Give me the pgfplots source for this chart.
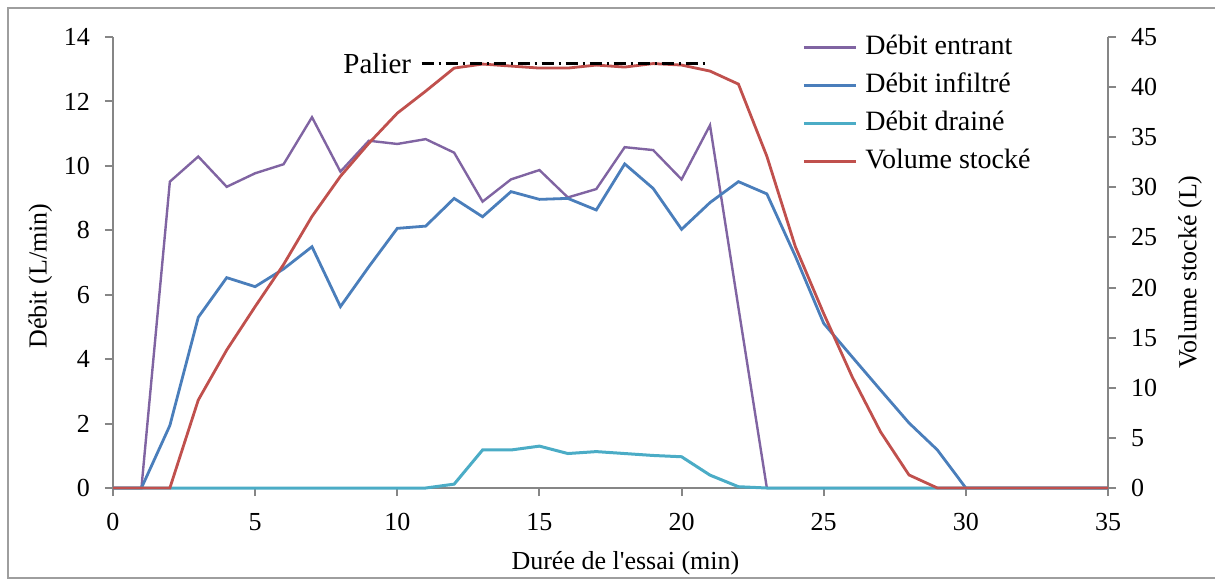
\documentclass[border=0pt]{standalone}
\usepackage{fontspec}
\setmainfont{Liberation Serif}
\usepackage{pgfplots}
\pgfplotsset{compat=1.18}
\definecolor{cPur}{RGB}{128,100,162}
\definecolor{cBlu}{RGB}{74,126,187}
\definecolor{cCya}{RGB}{75,172,198}
\definecolor{cRed}{RGB}{192,80,77}
\definecolor{cAx}{RGB}{134,134,134}
\pgfplotsset{
  common/.style={
    at={(56.5pt,46pt)}, anchor=south west,
    scale only axis, width=497.5pt, height=225.5pt,
    xmin=0, xmax=35,
    axis line style={cAx, line width=1pt, -},
    tick style={cAx, line width=1pt},
    tick align=outside, major tick length=4pt,
    /pgf/number format/assume math mode=true,
    ticklabel style={font=\fontsize{13}{15.6}\selectfont, text=black},
    label style={font=\fontsize{14}{16.8}\selectfont},
    clip=false,
  },
}
\begin{document}
\fontsize{13}{15.6}\selectfont
\begin{tikzpicture}
\path[use as bounding box] (0,0) rectangle (607.5pt,290pt);
\draw[cAx!80, line width=0.8pt] (4pt,1pt) rectangle (620pt,286pt);
\begin{axis}[common,
  ymin=0, ymax=14, ytick={0,2,...,14},
  xtick={0,5,...,35},
  axis y line*=left, axis x line*=bottom,
  yticklabel style={xshift=-3pt},
  xticklabel style={yshift=-4pt},
  xlabel={Durée de l\textquotesingle essai (min)},
  ylabel={Débit (L/min)},
  every axis x label/.style={at={(axis description cs:0.515,-0.166)}, anchor=center},
  every axis y label/.style={at={(axis description cs:-0.073,0.47)}, rotate=90, anchor=center},
]
\addplot[cPur, line width=1.2pt] coordinates {
(0,0) (1,0) (2,9.51) (3,10.29) (4,9.35) (5,9.77) (6,10.05) (7,11.51) (8,9.82) (9,10.78)
(10,10.68) (11,10.83) (12,10.41) (13,8.89) (14,9.58) (15,9.87) (16,9.02) (17,9.28) (18,10.58)
(19,10.49) (20,9.58) (21,11.26) (22,5.6) (23,0) (24,0) (25,0) (26,0) (27,0) (28,0) (29,0)
(30,0) (31,0) (32,0) (33,0) (34,0) (35,0)};
\addplot[cBlu, line width=1.4pt] coordinates {
(0,0) (1,0) (2,1.94) (3,5.30) (4,6.53) (5,6.25) (6,6.8) (7,7.49) (8,5.63) (9,6.87)
(10,8.06) (11,8.13) (12,8.99) (13,8.42) (14,9.20) (15,8.96) (16,8.99) (17,8.63) (18,10.06)
(19,9.30) (20,8.03) (21,8.86) (22,9.51) (23,9.13) (24,7.2) (25,5.11) (26,4.07) (27,3.04)
(28,2.02) (29,1.18) (30,0) (31,0) (32,0) (33,0) (34,0) (35,0)};
\addplot[cCya, line width=1.5pt] coordinates {
(0,0) (1,0) (2,0) (3,0) (4,0) (5,0) (6,0) (7,0) (8,0) (9,0) (10,0) (11,0) (12,0.12)
(13,1.18) (14,1.18) (15,1.30) (16,1.07) (17,1.13) (18,1.07) (19,1.01) (20,0.97) (21,0.40)
(22,0.04) (23,0) (24,0) (25,0) (26,0) (27,0) (28,0) (29,0) (30,0) (31,0) (32,0) (33,0)
(34,0) (35,0)};
\end{axis}
\begin{axis}[common,
  ymin=0, ymax=45, ytick={0,5,...,45},
  axis y line*=right, axis x line=none,
  yticklabel style={xshift=3pt},
  ylabel={Volume stocké (L)},
  every axis y label/.style={at={(axis description cs:1.0824,0.479)}, rotate=90, anchor=center},
  legend entries={Débit entrant, Débit infiltré, Débit drainé, Volume stocké},
  legend cell align=left,
  legend style={at={(axis description cs:0.6925,1.005)}, anchor=north west,
    draw=none, fill=none, inner sep=0pt, row sep=6.5pt,
    font=\fontsize{14}{16.8}\selectfont,
    nodes={inner sep=0pt, text height=9.5pt, text depth=3pt},
    /tikz/every odd column/.append style={column sep=4pt}},
  legend image code/.code={\draw[#1] (0pt,0pt) -- (26pt,0pt);},
]
\addlegendimage{cPur, line width=1.2pt}
\addlegendimage{cBlu, line width=1.4pt}
\addlegendimage{cCya, line width=1.5pt}
\addplot[cRed, line width=1.4pt] coordinates {
(0,0) (1,0) (2,0) (3,8.78) (4,13.77) (5,18.1) (6,22.3) (7,27.1) (8,31.1) (9,34.4)
(10,37.4) (11,39.6) (12,41.9) (13,42.3) (14,42.1) (15,41.9) (16,41.9) (17,42.2) (18,42.0)
(19,42.35) (20,42.2) (21,41.6) (22,40.3) (23,33.1) (24,24.1) (25,17.4) (26,11.1) (27,5.6)
(28,1.3) (29,0) (30,0) (31,0) (32,0) (33,0) (34,0) (35,0)};
\addplot[black, line width=1.3pt, dash pattern=on 6pt off 2.5pt on 1pt off 2.5pt, forget plot]
coordinates {(10.86,42.37) (20.88,42.37)};
\node[anchor=east, inner sep=0pt, font=\fontsize{14.5}{17}\selectfont] at (axis cs:10.5,42.37) {Palier};
\end{axis}
\end{tikzpicture}
\end{document}
